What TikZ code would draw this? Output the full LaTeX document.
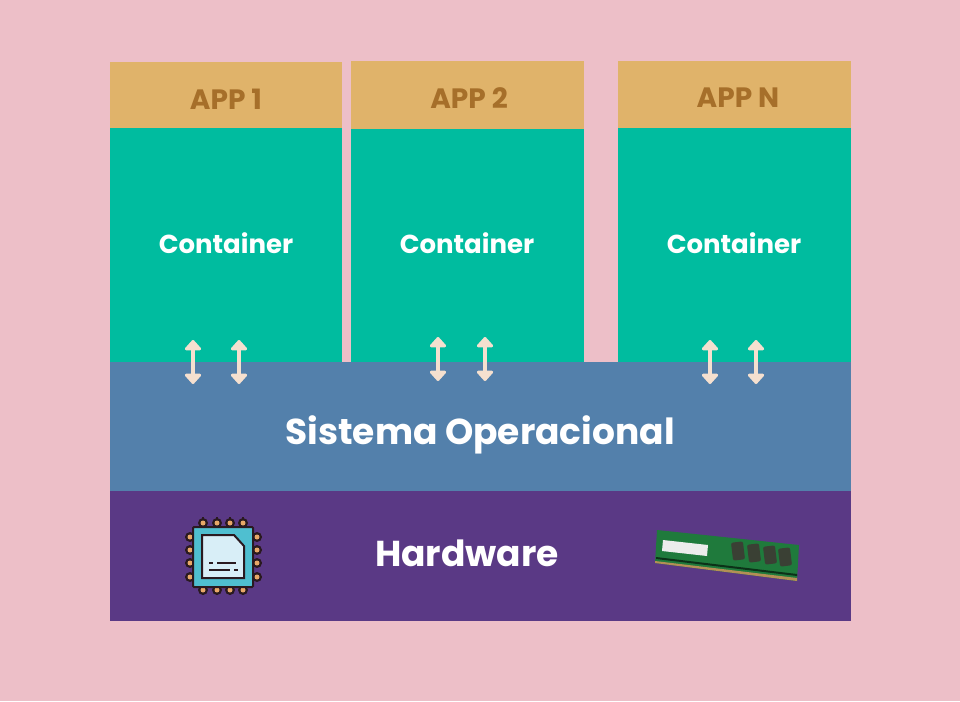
\documentclass[tikz,border=0pt]{standalone}
\usepackage{fontspec}
\setmainfont{Poppins}
\usetikzlibrary{arrows.meta}
\definecolor{fundo}{HTML}{EDBFC8}
\definecolor{app}{HTML}{E0B36A}
\definecolor{apptxt}{HTML}{A66F2A}
\definecolor{cont}{HTML}{00BC9F}
\definecolor{so}{HTML}{5380AB}
\definecolor{hw}{HTML}{5A3985}
\definecolor{corseta}{HTML}{F5E0CF}
\definecolor{chip}{HTML}{4FBFD0}
\definecolor{chipin}{HTML}{D8EEF7}
\definecolor{contorno}{HTML}{2A1A20}
\definecolor{pino}{HTML}{E8A868}
\definecolor{ram}{HTML}{1F7A3C}
\definecolor{ramesc}{HTML}{3A4034}
\tikzset{
	apptext/.style={text=apptxt, font=\fontsize{28}{32}\selectfont\bfseries},
	conttext/.style={text=white, font=\fontsize{26}{30}\selectfont\bfseries},
	bigtext/.style={text=white, font=\fontsize{36}{42}\selectfont\bfseries},
	setadupla/.style={corseta, line width=4.5pt, {Triangle[width=19pt,length=11pt,round]}-{Triangle[width=19pt,length=11pt,round]}},
}
\begin{document}
\begin{tikzpicture}[x=1pt, y=-1pt]
	\fill[fundo] (0, 0) rectangle (960, 701);
	% Apps et containers
	\fill[app] (110, 62) rectangle (342, 128);
	\fill[app] (351, 61) rectangle (584, 129);
	\fill[app] (618, 61) rectangle (851, 128);
	\fill[cont] (110, 128) rectangle (342, 362);
	\fill[cont] (351, 129) rectangle (584, 362);
	\fill[cont] (618, 128) rectangle (851, 362);
	% Couches
	\fill[so] (110, 362) rectangle (851, 491);
	\fill[hw] (110, 491) rectangle (851, 621);
	\node[apptext] (app1) at (226, 99) {APP 1};
	\node[apptext] (app2) at (469, 98) {APP 2};
	\node[apptext] (appn) at (738, 98) {APP N};
	\node[conttext] (cont1) at (226, 243) {Container};
	\node[conttext] (cont2) at (467, 243) {Container};
	\node[conttext] (contn) at (734, 243) {Container};
	\node[bigtext] (sistema) at (480, 435) {Sistema Operacional};
	\node[bigtext] (hardware) at (467, 553) {Hardware};
	% Flèches
	\foreach \x/\ya/\yb in {193/340/384, 239/340/384, 438/337/381, 485/337/381, 710/340/384, 756/340/384}
		\draw[setadupla] (\x, \ya) -- (\x, \yb);
	% Processeur
	\foreach \p in {203, 217, 230, 243} {
		\draw[contorno, line width=2pt] (\p, 517) -- (\p, 595);
		\fill[contorno] (\p, 523) circle (5);
		\fill[contorno] (\p, 590) circle (5);
		\fill[pino] (\p, 523) circle (2.5);
		\fill[pino] (\p, 590) circle (2.5);
	}
	\foreach \p in {537, 550, 563, 577} {
		\draw[contorno, line width=2pt] (185, \p) -- (262, \p);
		\fill[contorno] (190, \p) circle (5);
		\fill[contorno] (257, \p) circle (5);
		\fill[pino] (190, \p) circle (2.5);
		\fill[pino] (257, \p) circle (2.5);
	}
	\draw[contorno, fill=chip, line width=2pt, rounded corners=1pt] (193, 527) rectangle (253, 587);
	\draw[contorno, fill=chipin, line width=2pt] (202, 535) -- (234, 535) -- (244, 546) -- (244, 578) -- (202, 578) -- cycle;
	\draw[contorno, line width=2pt] (209, 563) -- (213, 563) (217, 563) -- (236, 563);
	\draw[contorno, line width=2pt] (209, 570) -- (230, 570) (234, 570) -- (238, 570);
	% Mémoire
	\fill[ram] (657, 530) -- (799, 545) -- (797, 581) -- (655, 563) -- cycle;
	\fill[app!80!black] (655, 561) -- (797, 578) -- (797, 581) -- (655, 563) -- cycle;
	\fill[white!85!gray] (663, 540) -- (708, 545) -- (707, 556) -- (662, 551) -- cycle;
	\fill[black!60!ram] (656, 557) -- (797, 574) -- (797, 576) -- (656, 559) -- cycle;
	\foreach \x/\y in {738/551, 754/553, 770/555, 785/557}
		\fill[ramesc, rotate around={7:(\x, \y)}, rounded corners=2pt] (\x-6, \y-9) rectangle (\x+6, \y+9);
\end{tikzpicture}
\end{document}
